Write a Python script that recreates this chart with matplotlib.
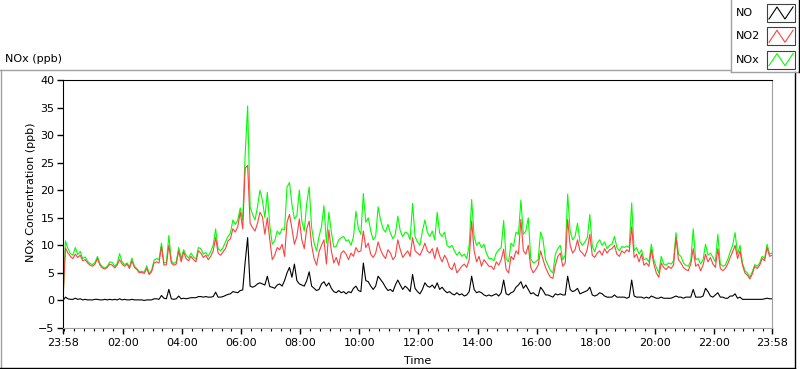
import matplotlib
matplotlib.use("Agg")
import matplotlib.pyplot as plt
import numpy as np

# minutes after 23:58, one reading every 5 minutes
Minutes = np.arange(0, 1445, 5)

# NO (ppb)
NO = [0.0, 0.6, 0.3, 0.2, 0.2, 0.4, 0.2, 0.3, 0.1, 0.2, 0.1, 0.1,
      0.1, 0.2, 0.2, 0.1, 0.1, 0.2, 0.1, 0.2, 0.1, 0.2, 0.1, 0.3,
      0.1, 0.2, 0.1, 0.1, 0.2, 0.1, 0.1, 0.1, 0.1, 0.0, 0.1, 0.1,
      0.1, 0.3, 0.3, 0.2, 0.9, 0.4, 0.3, 2.0, 0.3, 0.2, 0.3, 0.8,
      0.3, 0.4, 0.3, 0.4, 0.5, 0.5, 0.5, 0.7, 0.7, 0.6, 0.7, 0.6,
      0.6, 0.7, 1.5, 0.6, 0.6, 0.7, 0.9, 1.1, 1.2, 1.6, 1.5, 1.4,
      1.8, 1.9, 7.0, 11.4, 2.6, 2.4, 2.6, 3.0, 3.2, 3.0, 2.8, 4.4,
      2.5, 2.4, 2.2, 2.8, 3.0, 2.6, 3.6, 5.0, 6.0, 4.2, 6.6, 3.6,
      3.0, 2.8, 2.6, 3.6, 5.2, 2.6, 2.2, 1.8, 2.0, 3.0, 3.4, 2.6,
      3.2, 2.2, 1.6, 1.4, 1.8, 1.4, 1.6, 1.2, 1.6, 1.4, 2.2, 2.6,
      1.8, 1.6, 6.8, 3.6, 3.4, 2.6, 2.0, 2.6, 4.4, 3.8, 3.2, 2.4,
      1.8, 2.0, 1.6, 2.8, 3.7, 2.8, 2.0, 2.6, 2.2, 1.6, 4.7, 2.2,
      1.6, 1.2, 2.0, 3.2, 2.6, 2.4, 2.8, 2.2, 3.2, 2.0, 2.4, 1.8,
      1.4, 1.6, 1.2, 1.0, 1.4, 1.0, 1.2, 0.8, 1.0, 1.6, 4.4, 2.0,
      1.4, 1.6, 1.4, 1.0, 0.8, 1.0, 0.8, 1.0, 1.2, 0.8, 1.4, 3.7,
      1.2, 1.0, 1.4, 1.6, 2.4, 2.8, 3.4, 2.2, 2.8, 2.0, 1.2, 1.4,
      1.0, 0.8, 2.4, 1.8, 1.0, 1.0, 0.8, 0.6, 1.2, 1.0, 1.2, 1.0,
      1.0, 4.4, 2.0, 1.6, 1.8, 2.2, 1.2, 1.4, 1.6, 1.8, 2.4, 1.0,
      0.8, 1.0, 1.4, 1.2, 0.8, 0.6, 0.6, 0.6, 1.0, 0.6, 0.6, 0.6,
      0.6, 0.4, 0.6, 3.7, 0.8, 0.6, 0.6, 0.6, 0.4, 0.6, 0.4, 0.8,
      0.6, 0.4, 0.4, 0.6, 0.4, 0.4, 0.4, 0.4, 0.6, 0.8, 0.6, 0.6,
      0.4, 0.6, 0.6, 0.6, 2.0, 0.6, 0.6, 0.6, 0.8, 2.2, 1.6, 0.8,
      0.6, 1.0, 1.4, 0.6, 0.6, 0.4, 0.4, 0.8, 0.8, 1.2, 0.4, 0.6,
      0.2, 0.2, 0.2, 0.2, 0.2, 0.2, 0.2, 0.2, 0.2, 0.3, 0.4, 0.3,
      0.3]

# NO2 (ppb)
NO2 = [0.0, 9.5, 8.6, 8.0, 7.6, 8.4, 7.8, 8.2, 7.2, 7.4, 6.8, 6.4,
       6.2, 6.6, 7.6, 6.4, 5.9, 5.7, 6.0, 6.6, 6.4, 5.9, 6.4, 7.4,
       6.6, 6.2, 6.6, 5.8, 7.2, 6.0, 5.6, 5.0, 5.1, 4.9, 5.8, 4.7,
       5.2, 6.8, 7.0, 6.8, 9.8, 6.4, 6.5, 10.0, 6.8, 6.4, 6.6, 9.0,
       7.0, 8.8, 7.6, 7.2, 8.0, 7.4, 7.0, 9.0, 8.6, 7.8, 8.2, 7.4,
       8.0, 9.0, 11.4, 8.6, 8.2, 8.8, 9.4, 10.8, 11.2, 13.0, 12.4, 13.4,
       16.0, 13.0, 24.0, 24.5, 14.0, 13.2, 12.6, 14.0, 16.0, 15.2, 12.0, 15.0,
       11.0, 7.4, 8.2, 9.6, 9.2, 10.2, 8.0, 14.2, 15.6, 13.0, 10.2, 11.6,
       14.8, 11.0, 9.4, 13.0, 14.4, 10.0, 7.6, 6.4, 8.8, 10.0, 11.0, 6.6,
       12.8, 9.0, 6.8, 7.8, 6.4, 8.6, 9.0, 8.4, 7.4, 8.6, 8.0, 9.6,
       8.8, 9.0, 12.6, 9.6, 10.4, 8.4, 7.8, 8.6, 10.6, 9.2, 8.2, 7.6,
       9.2, 8.6, 7.4, 8.0, 11.0, 9.2, 7.8, 8.4, 9.0, 8.0, 11.4, 9.0,
       8.6, 8.2, 9.2, 10.4, 9.0, 8.6, 9.4, 7.6, 9.6, 8.0, 7.0, 8.2,
       7.4, 6.0, 5.6, 6.8, 5.0, 5.6, 6.2, 6.6, 6.0, 7.4, 14.4, 9.0,
       7.0, 8.0, 6.2, 7.4, 6.8, 6.2, 6.2, 5.6, 7.0, 6.4, 7.4, 9.3,
       5.6, 5.0, 8.0, 7.4, 9.0, 8.4, 14.7, 9.0, 8.4, 10.0, 6.0, 5.0,
       5.6, 6.4, 9.0, 7.4, 6.0, 5.0, 4.2, 4.0, 6.4, 8.0, 8.6, 6.2,
       6.8, 14.7, 10.0, 8.6, 9.2, 11.0, 9.0, 8.6, 8.0, 9.4, 12.0, 8.2,
       7.8, 8.6, 9.0, 8.2, 9.4, 8.6, 9.2, 9.4, 10.0, 8.4, 8.0, 9.0,
       8.6, 9.2, 8.8, 13.4, 7.8, 8.4, 7.0, 8.4, 6.4, 6.8, 6.2, 9.2,
       6.6, 5.0, 4.2, 6.8, 6.0, 5.6, 6.2, 5.8, 6.4, 11.4, 7.4, 6.8,
       6.0, 5.6, 5.4, 6.6, 9.4, 6.2, 6.6, 5.4, 6.4, 8.4, 7.0, 7.8,
       6.6, 6.0, 9.4, 5.8, 5.4, 5.8, 6.6, 7.8, 8.8, 10.0, 7.6, 9.0,
       6.4, 5.0, 4.6, 3.9, 4.8, 6.2, 5.8, 6.4, 7.6, 7.2, 9.6, 8.0,
       8.2]

# NOx (ppb)
NOx = [0.0, 10.8, 9.4, 8.5, 8.2, 9.6, 8.3, 8.9, 7.6, 7.9, 7.1, 6.7,
       6.5, 6.9, 8.0, 6.7, 6.1, 5.9, 6.2, 7.0, 6.9, 6.2, 6.7, 8.5,
       7.0, 6.5, 6.8, 6.1, 7.7, 6.2, 5.8, 5.2, 5.3, 5.1, 6.3, 4.9,
       5.5, 7.3, 7.6, 7.4, 10.4, 6.8, 6.9, 11.8, 7.2, 6.7, 7.0, 9.6,
       7.6, 9.2, 8.2, 7.7, 8.6, 7.9, 7.5, 9.6, 9.4, 8.4, 8.7, 8.0,
       8.9, 10.0, 13.0, 9.4, 9.0, 9.6, 10.6, 11.6, 12.2, 14.6, 13.8, 14.6,
       16.8, 14.6, 26.5, 35.3, 17.0, 15.6, 14.6, 17.0, 20.0, 18.2, 15.0, 19.6,
       13.6, 10.2, 10.8, 12.6, 12.0, 13.0, 12.8, 20.6, 21.4, 17.4, 14.8, 15.4,
       20.0, 14.4, 12.6, 17.6, 20.6, 13.2, 10.4, 9.0, 11.6, 13.4, 17.2, 10.4,
       16.0, 12.4, 9.7, 9.8, 11.0, 11.4, 11.6, 10.8, 11.0, 10.0, 11.6, 16.2,
       13.0, 12.0, 19.4, 14.2, 15.0, 12.6, 11.0, 11.6, 17.0, 14.6, 13.0, 12.4,
       13.8, 12.2, 11.2, 12.0, 15.3, 12.6, 11.6, 12.4, 12.2, 11.0, 17.6, 11.6,
       10.6, 10.0, 12.6, 14.6, 12.4, 11.6, 12.6, 11.0, 16.0, 12.2, 11.6, 12.4,
       10.0, 9.6, 10.0, 9.0, 8.2, 8.8, 8.0, 8.4, 7.6, 10.0, 18.3, 11.6,
       10.0, 10.6, 9.6, 10.2, 8.6, 7.6, 7.6, 7.2, 8.6, 9.2, 9.6, 14.5,
       7.6, 7.0, 10.4, 9.8, 12.4, 12.0, 18.2, 12.0, 12.6, 15.0, 7.6, 6.8,
       7.0, 7.4, 12.4, 11.0, 7.4, 6.4, 5.4, 5.0, 8.4, 9.4, 10.0, 7.4,
       8.2, 19.3, 12.6, 11.0, 11.6, 14.0, 10.6, 10.0, 10.6, 11.4, 15.6, 9.8,
       8.8, 10.4, 11.0, 10.0, 10.6, 9.4, 10.0, 10.2, 11.6, 9.6, 9.0, 9.8,
       9.6, 9.9, 9.6, 17.7, 9.0, 9.6, 8.4, 9.2, 7.4, 7.6, 7.0, 10.2,
       7.4, 6.0, 5.0, 8.0, 6.6, 6.4, 6.8, 6.6, 7.2, 12.3, 8.4, 8.0,
       6.8, 6.4, 6.2, 7.2, 13.0, 7.4, 7.6, 6.6, 7.4, 10.2, 8.2, 8.6,
       7.8, 7.0, 12.0, 6.6, 6.2, 6.4, 7.4, 8.8, 10.0, 12.3, 8.4, 10.0,
       6.8, 5.4, 5.0, 4.2, 5.2, 6.5, 6.2, 6.8, 8.0, 7.6, 10.2, 8.4,
       8.6]

# x axis labels
TickMinutes = [0] + list(range(122, 1440, 120)) + [1440]
TickLabels = ["23:58"] + ["%02d:00" % h for h in range(2, 24, 2)] + ["23:58"]

W, H = 800, 369
fig = plt.figure(figsize=(W / 100, H / 100), dpi=100)
fig.patch.set_facecolor("white")

# overlay in pixel coords for the frame, legend and titles
bg = fig.add_axes([0, 0, 1, 1])
bg.set_xlim(0, W)
bg.set_ylim(H, 0)
bg.axis("off")

gray = "#a0a0a0"
bg.plot([0, 730], [69.5, 69.5], color=gray, lw=1)
bg.plot([0.5, 0.5], [69.5, 368], color=gray, lw=1)
bg.plot([0, 795], [367.5, 367.5], color="black", lw=1)
bg.plot([794.5, 794.5], [72, 368], color="black", lw=1)

# legend panel
bg.plot([730.5, 730.5], [0, 72], color=gray, lw=1)
bg.plot([730.5, 799], [72, 72], color=gray, lw=1)
bg.plot([799, 799], [0, 72], color="black", lw=1)
for i, (name, col) in enumerate([("NO", "black"), ("NO2", "#ff4040"), ("NOx", "#00ff00")]):
    cy = 13 + 23.3 * i
    bg.text(736, cy, name, fontsize=8, va="center", ha="left")
    bg.add_patch(plt.Rectangle((767, cy - 9), 28, 18, facecolor="white", edgecolor="#404040", lw=0.8))
    bg.plot([769, 777, 785, 793], [cy + 6, cy - 6, cy + 6, cy - 6], color=col, lw=0.8)

bg.text(5, 59, "NOx (ppb)", fontsize=8, va="center", ha="left")
bg.text(31, 192, "NOx Concentration (ppb)", fontsize=8, rotation=90, va="center", ha="center")
bg.text(418, 361, "Time", fontsize=8, va="center", ha="center")

# chart
ax = fig.add_axes([63 / W, 1 - 328 / H, (772 - 63) / W, (328 - 80) / H])
ax.plot(Minutes, NOx, color="#00ff00", lw=0.8)
ax.plot(Minutes, NO2, color="#ff4040", lw=0.8)
ax.plot(Minutes, NO, color="black", lw=0.8)

ax.set_xlim(0, 1440)
ax.set_ylim(-5, 40)
ax.set_yticks(range(-5, 41, 5))
ax.set_xticks(TickMinutes)
ax.set_xticklabels(TickLabels)
ax.set_xticks(np.arange(2, 1440, 20), minor=True)
ax.tick_params(axis="both", labelsize=8, length=4, width=1, direction="out")
ax.tick_params(axis="x", pad=3)
ax.tick_params(axis="y", pad=2)
ax.tick_params(axis="x", which="minor", length=2.5, width=0.8)

ax.spines["left"].set_color("black")
ax.spines["top"].set_color("black")
ax.spines["right"].set_color(gray)
ax.spines["bottom"].set_color(gray)

plt.savefig("out.png", dpi=100)
